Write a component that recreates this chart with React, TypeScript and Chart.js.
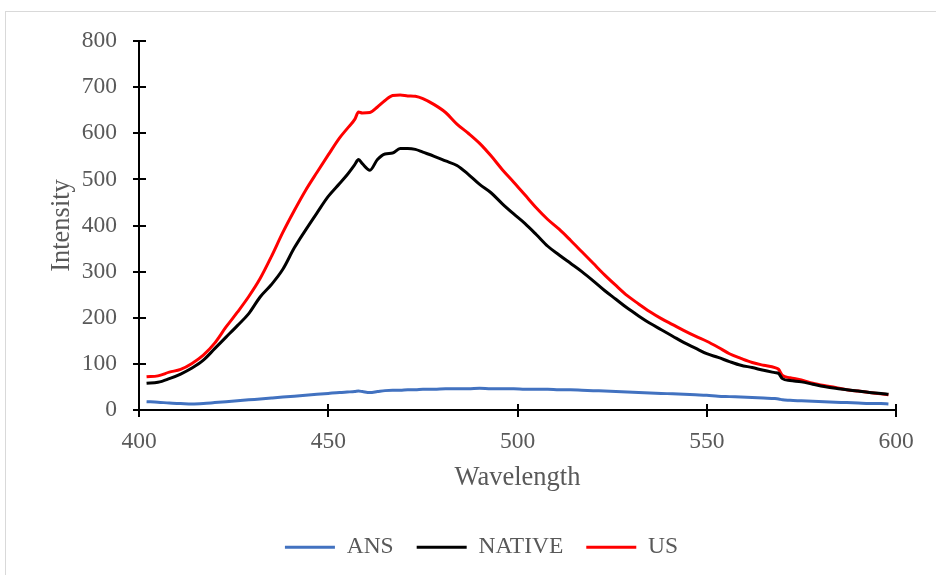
import React, { useEffect, useRef } from "react";
import { Chart, registerables } from "chart.js";

Chart.register(...registerables);

// ---- data ----
const wavelengths = [
  402, 405, 408, 411, 414, 417, 420, 423, 426, 429, 432, 435, 438, 441, 444, 447, 450, 453,
  455, 457, 458, 459, 461, 463, 465, 467, 469, 471, 473, 475,
  478, 481, 484, 487, 490, 493, 496, 499, 502, 505, 508, 511, 514, 517, 520, 523, 526, 529,
  532, 535, 538, 541, 544, 547, 550, 553, 556, 559, 562, 565, 568,
  569, 570, 572, 575, 578, 581, 584, 587, 590, 593, 596, 598,
];

const ansValues = [
  18, 17, 15, 14, 13, 14, 16, 18, 20, 22, 24, 26, 28, 30, 32, 34, 36, 38,
  39, 40, 41, 40, 38, 40, 42, 43, 43, 44, 44, 45,
  45, 46, 46, 46, 47, 46, 46, 46, 45, 45, 45, 44, 44, 43, 42, 41, 40, 39,
  38, 37, 36, 35, 34, 33, 32, 30, 29, 28, 27, 26, 25,
  24, 22, 21, 20, 19, 18, 17, 16, 15, 14, 14, 13,
];

const nativeValues = [
  58, 60, 68, 78, 91, 108, 133, 158, 183, 209, 245, 272, 305, 351, 390, 427, 463, 491,
  510, 532, 543, 534, 520, 543, 555, 557, 567, 567, 565, 559,
  550, 540, 530, 511, 489, 471, 447, 425, 404, 380, 355, 336, 318, 300, 280, 259, 240, 221,
  204, 188, 174, 160, 146, 134, 122, 114, 105, 97, 92, 86, 81,
  79, 68, 64, 61, 56, 51, 47, 44, 41, 38, 36, 34,
];

const usValues = [
  72, 74, 82, 88, 101, 119, 145, 180, 212, 246, 285, 333, 385, 432, 476, 515, 553, 590,
  610, 630, 646, 644, 645, 657, 671, 682, 683, 681, 680, 675,
  662, 645, 620, 600, 578, 551, 521, 494, 466, 438, 413, 392, 368, 343, 318, 293, 270, 248,
  230, 213, 198, 185, 172, 160, 149, 136, 122, 112, 103, 97, 92,
  88, 75, 70, 65, 58, 53, 49, 44, 41, 38, 35, 33,
];

const seriesNames = ["ANS", "NATIVE", "US"];
const seriesColors = ["#4272C0", "#000000", "#FF0000"];
const xTickValues = [400, 450, 500, 550, 600];
const yTickValues = [0, 100, 200, 300, 400, 500, 600, 700, 800];
const xTitle = "Wavelength";
const yTitle = "Intensity";

const FONT = "'Liberation Serif', 'Times New Roman', serif";
const TEXT_COLOR = "#595959";

const crossTicks = {
  id: "crossTicks",
  afterDraw(chart: any) {
    const { ctx, scales } = chart;
    const x = scales.x;
    const y = scales.y;
    ctx.save();
    ctx.strokeStyle = "#000000";
    ctx.lineWidth = 2;
    const axisX = Math.round(x.left);
    const axisY = Math.round(y.bottom);
    y.ticks.forEach((t: any) => {
      const py = Math.round(y.getPixelForValue(t.value));
      ctx.beginPath();
      ctx.moveTo(axisX - 6, py);
      ctx.lineTo(axisX + 7, py);
      ctx.stroke();
    });
    x.ticks.forEach((t: any) => {
      const px = Math.round(x.getPixelForValue(t.value));
      ctx.beginPath();
      ctx.moveTo(px, axisY - 6);
      ctx.lineTo(px, axisY + 7);
      ctx.stroke();
    });
    ctx.restore();
  },
};

export default function App() {
  const canvasRef = useRef<HTMLCanvasElement | null>(null);

  useEffect(() => {
    if (!canvasRef.current) return;
    const values = [ansValues, nativeValues, usValues];
    const chart = new Chart(canvasRef.current, {
      type: "line",
      data: {
        datasets: seriesNames.map((name, i) => ({
          label: name,
          data: wavelengths.map((w, j) => ({ x: w, y: values[i][j] })),
          borderColor: seriesColors[i],
          backgroundColor: seriesColors[i],
          borderWidth: 3,
          pointRadius: 0,
          pointHoverRadius: 0,
          cubicInterpolationMode: "monotone" as const,
          fill: false,
        })),
      },
      options: {
        animation: false,
        responsive: false,
        maintainAspectRatio: false,
        devicePixelRatio: 1,
        events: [],
        layout: { padding: { top: 41, left: 27, right: 0, bottom: 6 } },
        plugins: {
          tooltip: { enabled: false },
          title: { display: false },
          legend: {
            display: true,
            position: "bottom",
            labels: {
              usePointStyle: true,
              pointStyle: "line",
              pointStyleWidth: 50,
              padding: 23,
              color: TEXT_COLOR,
              font: { family: FONT, size: 23.5 },
            },
          },
        },
        scales: {
          x: {
            type: "linear",
            position: "bottom",
            min: 400,
            max: 600,
            afterBuildTicks: (s: any) => {
              s.ticks = xTickValues.map((v) => ({ value: v }));
            },
            afterFit: (s: any) => {
              s.height = 102.5;
            },
            grid: { display: false, drawTicks: false },
            border: { display: true, color: "#000000", width: 2 },
            ticks: {
              padding: 18,
              color: TEXT_COLOR,
              font: { family: FONT, size: 23.5 },
              maxRotation: 0,
            },
            title: {
              display: true,
              text: xTitle,
              color: TEXT_COLOR,
              font: { family: FONT, size: 26.5 },
              padding: { top: 0, bottom: 19 },
            },
          },
          y: {
            type: "linear",
            position: "left",
            min: 0,
            max: 800,
            afterBuildTicks: (s: any) => {
              s.ticks = yTickValues.map((v) => ({ value: v }));
            },
            afterFit: (s: any) => {
              s.width = 112;
            },
            grid: { display: false, drawTicks: false },
            border: { display: true, color: "#000000", width: 2 },
            ticks: {
              padding: 22,
              color: TEXT_COLOR,
              font: { family: FONT, size: 23.5 },
            },
            title: {
              display: true,
              text: yTitle,
              color: TEXT_COLOR,
              font: { family: FONT, size: 26.5 },
              padding: { top: 19, bottom: 0 },
            },
          },
          spacer: {
            type: "linear",
            position: "right",
            display: true,
            afterFit: (s: any) => {
              s.width = 40;
            },
            grid: { display: false, drawTicks: false },
            border: { display: false },
            ticks: { display: false },
            title: { display: false },
          },
        },
      },
      plugins: [crossTicks],
    } as any);
    return () => chart.destroy();
  }, []);

  return (
    <div
      style={{
        position: "fixed",
        left: 0,
        top: 0,
        width: 936,
        height: 575,
        overflow: "hidden",
        background: "#ffffff",
      }}
    >
      <div
        style={{
          position: "absolute",
          left: 5,
          top: 11,
          width: 2000,
          height: 2000,
          borderLeft: "1px solid #d9d9d9",
          borderTop: "1px solid #d9d9d9",
        }}
      />
      <canvas
        ref={canvasRef}
        width={936}
        height={575}
        style={{ position: "absolute", left: 0, top: 0, width: 936, height: 575 }}
      />
    </div>
  );
}
